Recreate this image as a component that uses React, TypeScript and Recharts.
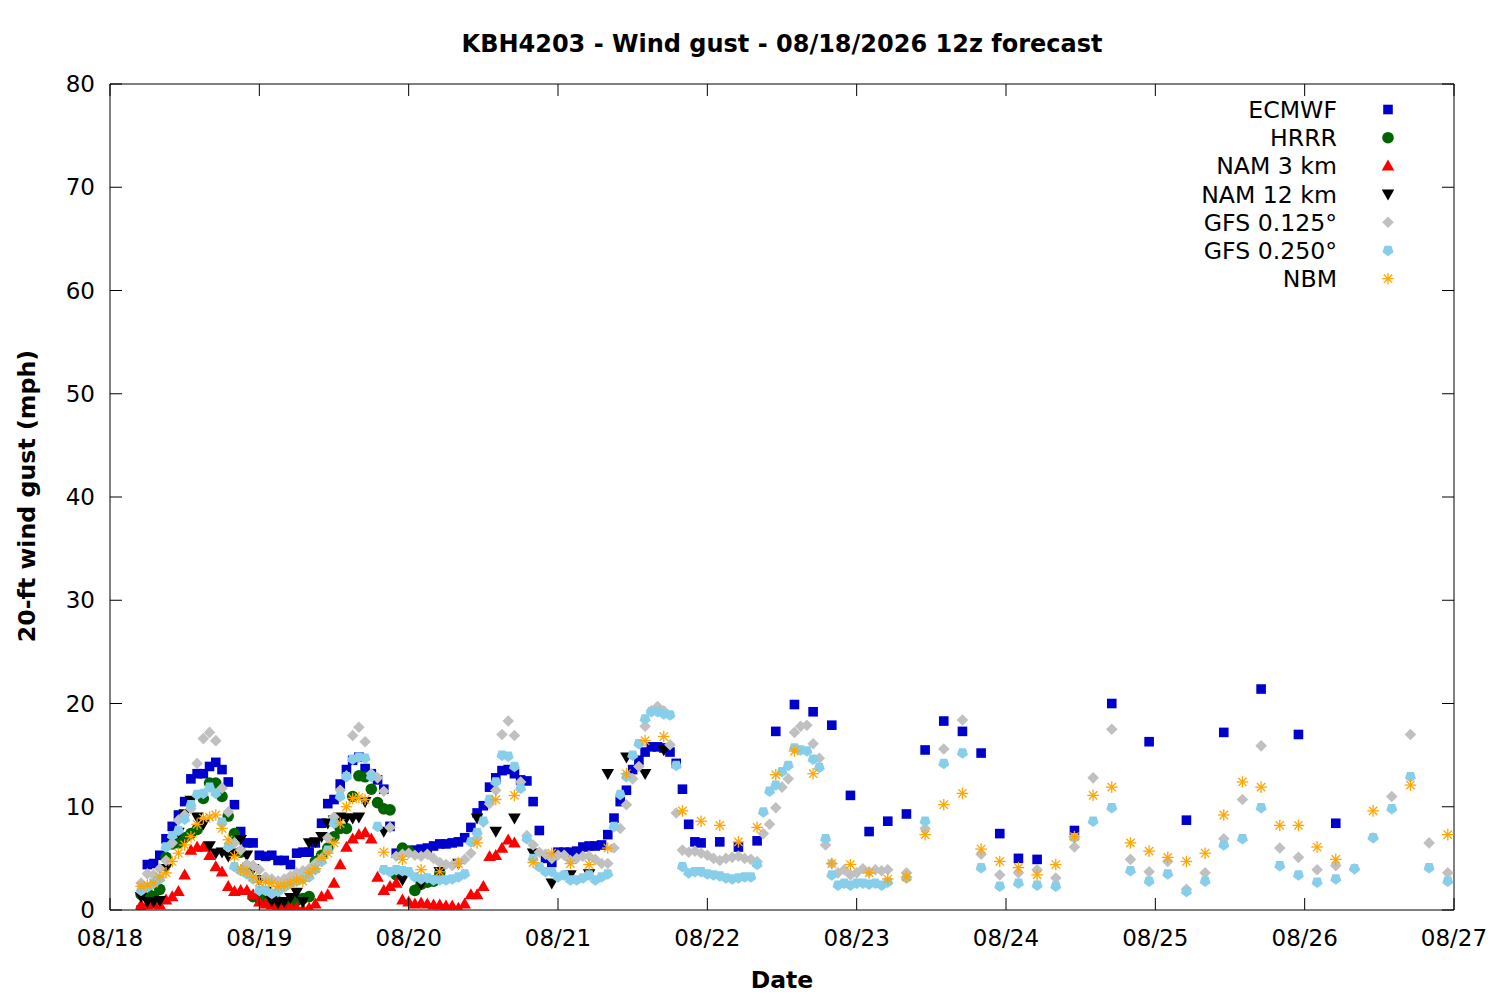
import React from 'react';
import { ScatterChart, Scatter, XAxis, YAxis } from 'recharts';

const FONT = '"DejaVu Sans", sans-serif';

// ---- axes ----
const dayTicks = [0, 24, 48, 72, 96, 120, 144, 168, 192, 216];
const dayLabels = ['08/18', '08/19', '08/20', '08/21', '08/22', '08/23', '08/24', '08/25', '08/26', '08/27'];
const gustTicks = [0, 10, 20, 30, 40, 50, 60, 70, 80];

// time grid (hours after 08/18 00:00 local)
const hoursFrom = (start: number, end: number, step: number) => {
  const out: number[] = [];
  for (let h = start; h <= end; h += step) out.push(h);
  return out;
};

// ---- ECMWF ----
const ecmwfHourly = [
  0.0, 4.4, 4.5, 5.3, 6.9, 8.1, 9.2, 10.5, 12.7, 13.2,
  13.2, 13.9, 14.3, 13.6, 12.4, 10.2, 7.6, 6.5, 6.5, 5.3,
  5.2, 5.3, 4.8, 4.8, 4.4, 5.5, 5.6, 5.6, 6.5, 8.4,
  10.3, 10.7, 12.2, 13.6, 14.5, 14.8, 13.7, 13.2, 12.6, 11.7,
  8.1, 5.5, 5.6, 5.7, 5.8, 5.9, 6.0, 6.2, 6.4, 6.4,
  6.5, 6.6, 7.0, 8.0, 9.4, 10.1, 11.9, 12.8, 13.5, 13.6,
  13.2, 12.6, 12.5, 10.5, 7.7, 5.0, 4.6, 5.6, 5.6, 5.6,
  5.7, 6.1, 6.2, 6.2, 6.3, 7.3, 8.9, 10.5, 11.6, 13.6,
  14.5, 15.3, 15.8, 15.8, 15.7, 15.3, 14.2, 11.7, 8.3, 6.6,
  6.5,
];
const ecmwf3h = [6.6, 6.1, 6.7, 17.3, 19.9, 19.2, 17.9, 11.1, 7.6, 8.6, 9.3, 15.5, 18.3, 17.3, 15.2, 7.4, 5.0, 4.9];
const ecmwf6h = [7.7, 20.0, 16.3, 8.7, 17.2, 21.4, 17.0, 8.4];

// ---- HRRR ----
const hrrrHourly = [
  1.5, 1.7, 1.3, 2.0, 5.1, 6.4, 6.5, 7.0, 7.4, 7.8,
  10.8, 12.3, 12.3, 11.0, 9.1, 7.4, 5.6, 4.2, 1.3, 1.1,
  0.9, 0.7, 0.8, 0.5, 0.6, 0.9, 1.1, 1.3, 4.7, 5.3,
  6.0, 7.1, 7.9, 7.9, 11.0, 13.0, 12.9, 11.7, 10.4, 9.8,
  9.7, 3.4, 6.0, 5.7, 1.9, 2.5, 2.7, 2.8, 3.6,
];

// ---- NAM 3 km ----
const nam3Hourly = [
  0.5, 0.5, 0.6, 0.5, 1.0, 1.3, 1.8, 3.4, 5.8, 6.1,
  6.1, 5.3, 4.2, 3.7, 2.3, 1.8, 1.9, 1.9, 1.5, 0.8,
  0.6, 0.5, 0.4, 0.3, 0.3, 0.2, 0.1, 0.2, 0.6, 1.3,
  1.5, 2.6, 4.4, 6.1, 6.9, 7.3, 7.5, 6.9, 3.2, 1.9,
  2.3, 2.6, 1.0, 0.8, 0.6, 0.7, 0.6, 0.5, 0.5, 0.4,
  0.4, 0.2, 0.6, 1.5, 1.5, 2.3, 5.2, 5.3, 6.0, 6.8, 6.5,
];

// ---- NAM 12 km ----
const nam12Hourly = [
  1.3, 0.8, 0.8, 0.9, 4.0, 6.8, 7.5, 9.3, 10.6, 9.0,
  8.3, 6.2, 5.5, 5.6, 5.2, 5.5, 6.8, 5.3, 4.0, 2.9,
  1.8, 0.9, 0.7, 0.8, 1.2, 1.7, 0.8, 6.5, 6.6, 7.1,
  8.4, 8.7, 9.0, 8.9, 8.9, 9.0, 10.5,
];
const nam12_3h = [7.6, 2.9, 2.5, 3.7, 4.5, 8.9, 7.6, 8.9, 5.5, 2.6, 3.4, 3.5, 13.2, 14.8, 13.2, 15.5];

// ---- GFS 0.125° ----
const gfs125Hourly = [
  2.6, 3.5, 3.4, 4.0, 4.8, 6.5, 8.7, 9.2, 9.8, 14.2,
  16.6, 17.2, 16.4, 11.8, 9.5, 6.5, 5.8, 4.4, 4.3, 3.9,
  3.2, 3.0, 2.8, 3.0, 3.3, 3.6, 3.8, 4.0, 4.5, 5.0,
  7.0, 9.0, 11.6, 13.0, 16.9, 17.7, 16.3, 13.2, 12.8, 11.5,
  8.0, 5.2, 5.4, 5.5, 5.3, 5.2, 5.4, 5.0, 4.6, 4.4,
  4.3, 4.6, 4.9, 5.5, 7.0, 8.5, 10.3, 11.6, 17.0, 18.3,
  16.9, 12.4, 7.2, 6.3, 5.6, 5.4, 5.0, 5.3, 5.3, 4.8,
  5.0, 5.2, 5.2, 4.9, 4.5, 4.5, 6.0, 7.9, 10.2, 12.7,
  13.9, 17.8, 19.3, 19.7, 19.3, 16.0, 9.4, 5.8, 5.6, 5.7,
  5.5, 5.3, 5.0, 4.8, 5.0, 5.1, 5.2, 5.0, 4.9, 4.7,
  7.4, 8.3, 9.9, 11.9, 12.7, 17.2, 17.8, 17.9, 16.1, 14.7,
  6.3, 4.5, 3.6, 3.9, 3.4, 3.6, 4.0, 3.7, 3.9, 3.8, 3.9,
];
const gfs125_3h = [
  3.6, 7.9, 15.6, 18.4, 5.4, 3.4, 3.6, 3.9, 3.1, 6.1,
  12.8, 17.5, 4.9, 3.7, 4.7, 2.0, 3.6, 6.9, 10.7, 15.9,
  6.0, 5.1, 3.9, 4.3, 4.0, 7.0, 11.0, 17.0, 6.5, 3.6,
];

// ---- GFS 0.250° ----
const gfs250Hourly = [
  1.9, 2.2, 2.6, 3.0, 6.1, 7.2, 7.7, 8.8, 10.2, 11.2,
  11.3, 11.9, 11.3, 8.5, 6.1, 4.2, 3.8, 3.5, 3.0, 1.9,
  1.9, 1.6, 1.8, 2.2, 2.6, 2.8, 3.0, 3.2, 3.9, 4.7,
  5.8, 8.4, 11.0, 12.9, 14.6, 14.8, 14.7, 12.9, 8.1, 3.9,
  3.7, 3.9, 3.8, 3.7, 3.2, 3.0, 3.1, 2.9, 2.9, 2.9,
  3.0, 3.2, 3.5, 6.6, 7.5, 8.6, 10.7, 12.4, 15.0, 14.9,
  13.9, 11.8, 6.9, 5.0, 4.2, 3.7, 3.7, 3.2, 3.4, 2.9,
  2.9, 3.1, 3.4, 2.9, 3.2, 3.5, 8.1, 11.2, 12.9, 15.0,
  16.1, 18.5, 19.2, 19.2, 19.0, 18.9, 14.0, 4.2, 3.6, 3.7,
  3.7, 3.5, 3.4, 3.3, 3.1, 3.0, 3.1, 3.2, 3.2, 4.4,
  9.5, 11.5, 12.1, 13.4, 14.0, 15.7, 15.5, 15.4, 14.6, 13.8,
  6.9, 3.4, 2.4, 2.6, 2.4, 2.6, 2.6, 2.5, 2.6, 2.4, 2.7,
];
const gfs250_3h = [
  3.1, 8.6, 14.2, 15.2, 4.1, 2.3, 2.6, 2.4, 2.3, 7.0,
  8.6, 9.9, 3.8, 2.8, 3.5, 1.8, 2.8, 6.3, 6.9, 9.9,
  4.3, 3.4, 2.7, 3.0, 4.0, 7.0, 9.8, 12.9, 4.1, 2.8,
];

// ---- NBM ----
const nbmHourly = [
  2.3, 2.4, 2.6, 3.2, 3.6, 4.7, 5.5, 6.3, 7.1, 8.3,
  8.9, 9.0, 9.2, 7.9, 6.8, 5.2, 3.9, 3.7, 3.2, 2.7,
  2.7, 2.6, 2.3, 2.4, 2.6, 2.9, 2.8, 3.6, 4.0, 5.0,
  5.5, 6.5, 8.4, 10.0, 10.8, 10.9, 10.7,
];
const nbm3h = [
  5.6, 4.9, 3.9, 3.7, 4.5, 6.5, 10.7, 11.1, 4.6, 5.5,
  4.5, 4.4, 6.0, 13.2, 16.4, 16.8, 9.6, 8.6, 8.2, 6.6,
  8.0, 13.1, 15.4, 13.2, 4.5, 4.4, 3.6, 3.0, 3.2, 7.3,
  10.2, 11.3, 5.9, 4.7, 4.1, 3.4, 4.4, 7.1, 11.1, 11.9,
  6.5, 5.7, 5.1, 4.7, 5.5, 9.2, 12.4, 11.9, 8.2, 8.2,
  6.1, 4.9,
];
const nbm6h = [9.6, 12.1, 7.3];

const toPoints = (hours: number[], values: number[]) =>
  hours.map((h, i) => ({ h, v: values[i] }));

const ecmwfData = toPoints(
  [...hoursFrom(5, 95, 1), ...hoursFrom(98, 149, 3), ...hoursFrom(155, 197, 6)],
  [...ecmwfHourly, ...ecmwf3h, ...ecmwf6h]
);
const hrrrData = toPoints(hoursFrom(5, 53, 1), hrrrHourly);
const nam3Data = toPoints(hoursFrom(5, 65, 1), nam3Hourly);
const nam12Data = toPoints([...hoursFrom(5, 41, 1), ...hoursFrom(44, 89, 3)], [...nam12Hourly, ...nam12_3h]);
const gfs125Data = toPoints([...hoursFrom(5, 125, 1), ...hoursFrom(128, 215, 3)], [...gfs125Hourly, ...gfs125_3h]);
const gfs250Data = toPoints([...hoursFrom(5, 125, 1), ...hoursFrom(128, 215, 3)], [...gfs250Hourly, ...gfs250_3h]);
const nbmData = toPoints(
  [...hoursFrom(5, 41, 1), ...hoursFrom(44, 197, 3), ...hoursFrom(203, 215, 6)],
  [...nbmHourly, ...nbm3h, ...nbm6h]
);

type Kind = 'square' | 'circle' | 'triUp' | 'triDown' | 'diamond' | 'pentagon' | 'star';

const Marker = ({ kind, cx, cy, color }: { kind: Kind; cx: number; cy: number; color: string }) => {
  if (cx == null || cy == null || isNaN(cx) || isNaN(cy)) return null;
  switch (kind) {
    case 'square':
      return <rect x={cx - 4.8} y={cy - 4.8} width={9.6} height={9.6} fill={color} />;
    case 'circle':
      return <circle cx={cx} cy={cy} r={5.8} fill={color} />;
    case 'triUp':
      return <polygon points={`${cx},${cy - 6.3} ${cx + 6.3},${cy + 4.7} ${cx - 6.3},${cy + 4.7}`} fill={color} />;
    case 'triDown':
      return <polygon points={`${cx},${cy + 6.3} ${cx + 6.3},${cy - 4.7} ${cx - 6.3},${cy - 4.7}`} fill={color} />;
    case 'diamond':
      return <polygon points={`${cx},${cy - 5.8} ${cx + 5.8},${cy} ${cx},${cy + 5.8} ${cx - 5.8},${cy}`} fill={color} />;
    case 'pentagon': {
      const r = 5.8;
      const pts = [0, 1, 2, 3, 4]
        .map((k) => {
          const a = ((90 + 72 * k) * Math.PI) / 180;
          return `${cx + r * Math.cos(a)},${cy + r * Math.sin(a)}`;
        })
        .join(' ');
      return <polygon points={pts} fill={color} />;
    }
    case 'star': {
      const r = 5.8;
      const d = r * 0.72;
      return (
        <g stroke={color} strokeWidth={1.3}>
          <line x1={cx - r} y1={cy} x2={cx + r} y2={cy} />
          <line x1={cx} y1={cy - r} x2={cx} y2={cy + r} />
          <line x1={cx - d} y1={cy - d} x2={cx + d} y2={cy + d} />
          <line x1={cx - d} y1={cy + d} x2={cx + d} y2={cy - d} />
        </g>
      );
    }
  }
  return null;
};

const series: { name: string; data: { h: number; v: number }[]; kind: Kind; color: string }[] = [
  { name: 'ECMWF', data: ecmwfData, kind: 'square', color: '#0000cd' },
  { name: 'HRRR', data: hrrrData, kind: 'circle', color: '#006400' },
  { name: 'NAM 3 km', data: nam3Data, kind: 'triUp', color: '#ff0000' },
  { name: 'NAM 12 km', data: nam12Data, kind: 'triDown', color: '#000000' },
  { name: 'GFS 0.125°', data: gfs125Data, kind: 'diamond', color: '#c0c0c0' },
  { name: 'GFS 0.250°', data: gfs250Data, kind: 'pentagon', color: '#87ceeb' },
  { name: 'NBM', data: nbmData, kind: 'star', color: '#ffa500' },
];

const TICK = 12;

const BottomTick = (p: any) => (
  <g>
    <line x1={p.x} x2={p.x} y1={p.y} y2={p.y - TICK} stroke="#000" strokeWidth={1} />
    <text x={p.x} y={p.y + 36} textAnchor="middle" fontSize={23} fontFamily={FONT} fill="#000">
      {dayLabels[dayTicks.indexOf(p.payload.value)]}
    </text>
  </g>
);
const TopTick = (p: any) => (
  <line x1={p.x} x2={p.x} y1={p.y} y2={p.y + TICK} stroke="#000" strokeWidth={1} />
);
const LeftTick = (p: any) => (
  <g>
    <line x1={p.x} x2={p.x + TICK} y1={p.y} y2={p.y} stroke="#000" strokeWidth={1} />
    <text x={p.x - 15} y={p.y + 8} textAnchor="end" fontSize={23} fontFamily={FONT} fill="#000">
      {p.payload.value}
    </text>
  </g>
);
const RightTick = (p: any) => (
  <line x1={p.x} x2={p.x - TICK} y1={p.y} y2={p.y} stroke="#000" strokeWidth={1} />
);

const LEGEND_TOP = 109.5;
const LEGEND_STEP = 28.2;

export default function App() {
  return (
    <div style={{ position: 'absolute', left: 0, top: 0, width: 1500, height: 1000, background: '#fff' }}>
      <ScatterChart width={1500} height={1000} margin={{ top: 74, right: 36, bottom: 0, left: 0 }}>
        <XAxis
          xAxisId="b"
          dataKey="h"
          type="number"
          domain={[0, 216]}
          ticks={dayTicks}
          allowDataOverflow
          orientation="bottom"
          height={90}
          tickSize={0}
          tickMargin={0}
          tickLine={false}
          axisLine={{ stroke: '#000', strokeWidth: 1 }}
          tick={<BottomTick />}
          interval={0}
        />
        <XAxis
          xAxisId="t"
          dataKey="h"
          type="number"
          domain={[0, 216]}
          ticks={dayTicks}
          allowDataOverflow
          orientation="top"
          height={10}
          tickSize={0}
          tickMargin={0}
          tickLine={false}
          axisLine={{ stroke: '#000', strokeWidth: 1 }}
          tick={<TopTick />}
          interval={0}
        />
        <YAxis
          yAxisId="l"
          dataKey="v"
          type="number"
          domain={[0, 80]}
          ticks={gustTicks}
          allowDataOverflow
          orientation="left"
          width={110}
          tickSize={0}
          tickMargin={0}
          tickLine={false}
          axisLine={{ stroke: '#000', strokeWidth: 1 }}
          tick={<LeftTick />}
          interval={0}
        />
        <YAxis
          yAxisId="r"
          dataKey="v"
          type="number"
          domain={[0, 80]}
          ticks={gustTicks}
          allowDataOverflow
          orientation="right"
          width={10}
          tickSize={0}
          tickMargin={0}
          tickLine={false}
          axisLine={{ stroke: '#000', strokeWidth: 1 }}
          tick={<RightTick />}
          interval={0}
        />
        {series.map((s) => (
          <Scatter
            key={s.name}
            name={s.name}
            data={s.data}
            xAxisId="b"
            yAxisId="l"
            isAnimationActive={false}
            shape={(p: any) => <Marker kind={s.kind} cx={p.cx} cy={p.cy} color={s.color} />}
          />
        ))}
      </ScatterChart>
      <svg
        width={1500}
        height={1000}
        style={{ position: 'absolute', left: 0, top: 0, pointerEvents: 'none' }}
      >
        <text x={782} y={52} textAnchor="middle" fontSize={24} fontWeight="bold" fontFamily={FONT} fill="#000">
          KBH4203 - Wind gust - 08/18/2026 12z forecast
        </text>
        <text x={782} y={988} textAnchor="middle" fontSize={23.5} fontWeight="bold" fontFamily={FONT} fill="#000">
          Date
        </text>
        <text
          x={35}
          y={496}
          textAnchor="middle"
          fontSize={23.7}
          fontWeight="bold"
          fontFamily={FONT}
          fill="#000"
          transform="rotate(-90 35 496)"
        >
          20-ft wind gust (mph)
        </text>
        {series.map((s, i) => {
          const cy = LEGEND_TOP + i * LEGEND_STEP;
          return (
            <g key={s.name}>
              <text x={1337} y={cy + 8.4} textAnchor="end" fontSize={23.6} fontFamily={FONT} fill="#000">
                {s.name}
              </text>
              <Marker kind={s.kind} cx={1388} cy={cy} color={s.color} />
            </g>
          );
        })}
      </svg>
    </div>
  );
}
